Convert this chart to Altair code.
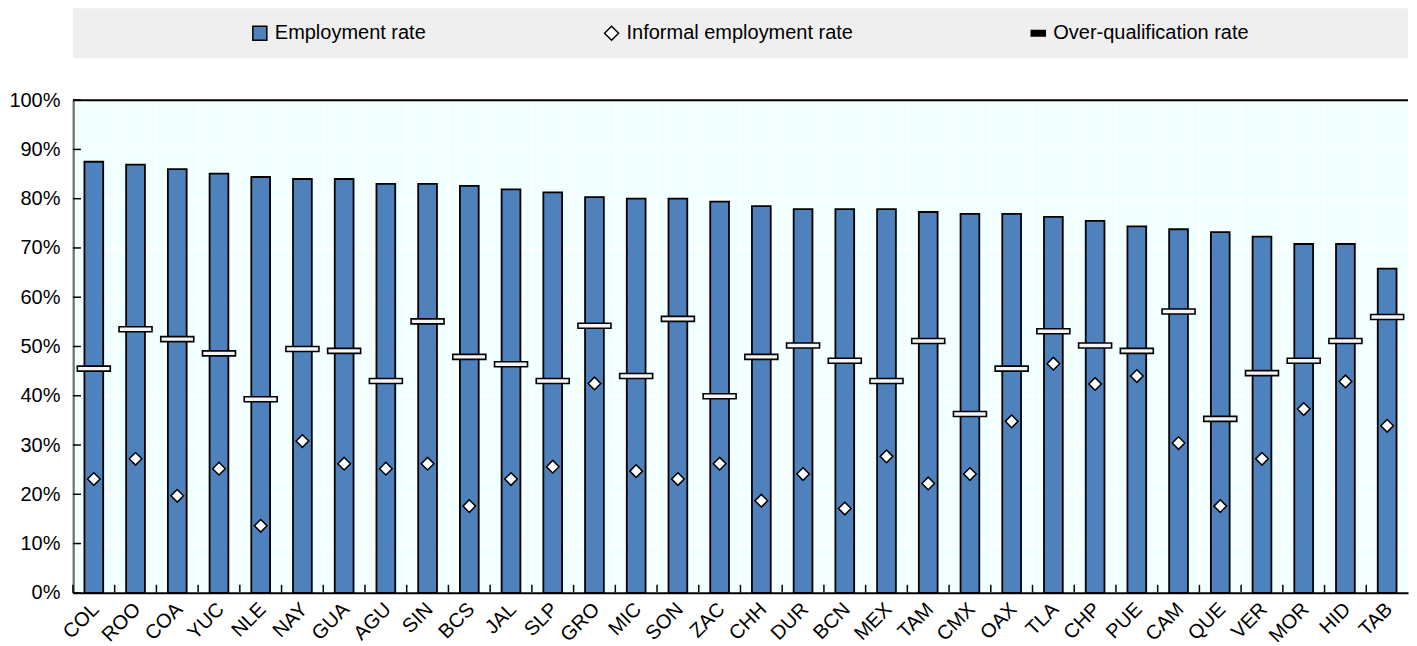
import altair as alt
import pandas as pd

states = ["COL", "ROO", "COA", "YUC", "NLE", "NAY", "GUA", "AGU", "SIN", "BCS", "JAL",
          "SLP", "GRO", "MIC", "SON", "ZAC", "CHH", "DUR", "BCN", "MEX", "TAM", "CMX",
          "OAX", "TLA", "CHP", "PUE", "CAM", "QUE", "VER", "MOR", "HID", "TAB"]
employment = [87.5, 86.9, 86.0, 85.1, 84.4, 84.0, 84.0, 83.0, 83.0, 82.6, 81.9,
              81.3, 80.3, 80.0, 80.0, 79.4, 78.5, 77.9, 77.9, 77.9, 77.3, 76.9,
              76.9, 76.3, 75.5, 74.4, 73.8, 73.2, 72.3, 70.8, 70.8, 65.8]
informal = [23.1, 27.2, 19.7, 25.2, 13.6, 30.8, 26.2, 25.2, 26.2, 17.6, 23.1,
            25.6, 42.5, 24.7, 23.1, 26.2, 18.7, 24.1, 17.1, 27.7, 22.2, 24.1,
            34.8, 46.5, 42.4, 44.0, 30.4, 17.6, 27.2, 37.3, 42.9, 33.9]
overqual = [45.5, 53.5, 51.5, 48.6, 39.3, 49.5, 49.1, 43.0, 55.1, 47.9, 46.4,
            43.0, 54.2, 44.0, 55.6, 39.9, 47.9, 50.2, 47.1, 43.0, 51.1, 36.3,
            45.5, 53.1, 50.2, 49.1, 57.1, 35.3, 44.6, 47.1, 51.1, 56.0]
series_names = ["Employment rate", "Informal employment rate", "Over-qualification rate"]
y_ticks = [0, 10, 20, 30, 40, 50, 60, 70, 80, 90, 100]

W, H = 1336, 493
FONT = "Liberation Sans"

df = pd.DataFrame({"state": states, "employment": employment,
                   "informal": informal, "overqual": overqual})

xscale = alt.Scale(domain=states, paddingInner=0, paddingOuter=0)
yscale = alt.Scale(domain=[0, 100], nice=False)

x_axis = alt.Axis(title=None, labelAngle=-45, labelFont=FONT, labelFontSize=20,
                  labelColor="black", labelPadding=6, labelOffset=-5, ticks=False,
                  grid=False, domainColor="black", domainWidth=2)
y_axis = alt.Axis(title=None, values=y_ticks, labelExpr="datum.value + '%'",
                  labelFont=FONT, labelFontSize=20, labelColor="black",
                  labelPadding=13, ticks=False, grid=True, gridColor="white",
                  gridWidth=1.2, domainColor="black", domainWidth=2)

def xenc(**kw):
    return alt.X("state:N", sort=states, scale=xscale, **kw)

def yenc(field):
    return alt.Y(field, scale=yscale)

base = alt.Chart(df)

# legend background band
legend_bg = alt.Chart(pd.DataFrame({"k": [0]})).mark_rect(fill="#EFEFEF").encode(
    x=alt.value(0), x2=alt.value(W), y=alt.value(-92), y2=alt.value(-42)
)

# vertical white grid lines at category boundaries
grid_v = base.mark_rule(color="white", strokeWidth=1).encode(
    x=xenc(bandPosition=0)
)

# legend carrier (drawn beneath the first bar, hidden by it)
leg = alt.Legend(
    orient="none", legendX=177, legendY=-77, direction="horizontal",
    title=None, columnPadding=175, labelFont=FONT, labelFontSize=20,
    labelColor="black", labelOffset=5, labelLimit=0, symbolSize=196,
    symbolStrokeWidth=1.5, symbolStrokeColor="black", padding=0,
)
legend_layer = alt.Chart(pd.DataFrame({"series": series_names})).mark_point(
    filled=True, strokeWidth=1.5, size=196, opacity=1
).encode(
    x=alt.XDatum("COL", type="nominal", scale=xscale),
    y=alt.YDatum(30, type="quantitative", scale=yscale),
    fill=alt.Fill("series:N", scale=alt.Scale(domain=series_names,
                  range=["#4F81BD", "white", "black"]), legend=leg),
    stroke=alt.Stroke("series:N", scale=alt.Scale(domain=series_names,
                      range=["black", "black", "black"]), legend=leg),
    shape=alt.Shape("series:N", scale=alt.Scale(domain=series_names,
                    range=["square", "diamond", "M-1,-0.4H1V0.4H-1Z"]), legend=leg),
)

bars = base.mark_bar(
    width=alt.RelativeBandSize(0.45), fill="#4F81BD", stroke="black", strokeWidth=1.8
).encode(
    x=alt.X("state:N", sort=states, scale=xscale, axis=x_axis),
    y=alt.Y("employment:Q", scale=yscale, axis=y_axis),
)

# inward axis ticks
xticks = base.mark_rule(color="black", strokeWidth=1.5).encode(
    x=xenc(bandPosition=0), y=alt.value(H - 8), y2=alt.value(H)
)
yticks = alt.Chart(pd.DataFrame({"v": y_ticks})).mark_rule(color="black", strokeWidth=1.5).encode(
    y=yenc("v:Q"), x=alt.value(0), x2=alt.value(8)
)
top_rule = alt.Chart(pd.DataFrame({"k": [0]})).mark_rule(color="black", strokeWidth=2).encode(
    y=alt.YDatum(100, type="quantitative", scale=yscale)
)

over = base.mark_tick(
    size=33, thickness=5, fill="#F4F4F4", stroke="black", strokeWidth=1.6, opacity=1
).encode(x=xenc(), y=yenc("overqual:Q"))

diam = base.mark_point(
    shape="diamond", size=160, filled=True, fill="white", stroke="black",
    strokeWidth=1.5, opacity=1
).encode(x=xenc(), y=yenc("informal:Q"))

chart = alt.layer(
    legend_bg, grid_v, legend_layer, bars, xticks, yticks, top_rule, over, diam
).properties(
    width=W, height=H, padding=0
).configure_view(
    fill="#F2FFFF", stroke=None
).configure_axisX(
    labelAngle=-45
)

chart.save("out.html", embed_options={"renderer": "svg", "actions": False})
